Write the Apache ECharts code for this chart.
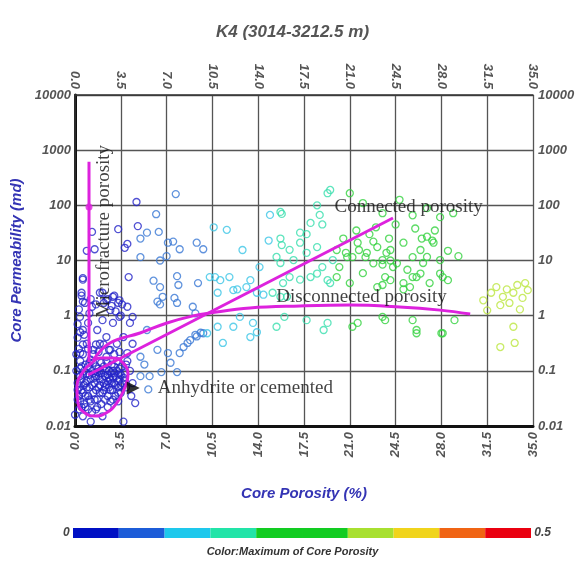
<!DOCTYPE html>
<html><head><meta charset="utf-8">
<script src="https://cdn.jsdelivr.net/npm/echarts@6/dist/echarts.min.js"></script>
<style>html,body{margin:0;padding:0;background:#fff}#c{width:585px;height:562px}</style>
</head><body><div id="c"></div>
<script>
// ---------------- data ----------------
const chartTitle = 'K4 (3014-3212.5 m)';
const xName = 'Core Porosity (%)';
const yName = 'Core Permeability (md)';
const colorCaption = 'Color:Maximum of Core Porosity';
const permTicks = [0.01, 0.1, 1, 10, 100, 1000, 10000];
const colorBarText = ['0', '0.5'];
// colour classes of porosity (%): [min, max]
const colorBreaks = [[0,5],[5,10],[10,15],[15,20],[20,25],[25,30],[30,35],[35,40],[40,45],[45,50]];
const barColors   = ['#0010c4','#1c5cd8','#1ec8ec','#22e4a8','#12cc22','#12cc22','#a8e030','#f0d41c','#f06414','#ea0010'];
const pointColors = ['#2626c8','#3a78d4','#3cc6e6','#38dfae','#34d240','#34d240','#bce640','#f0d820','#f06010','#e80010'];

// [core porosity %, core permeability md]
const clusterPts = [
[0.2,0.03],[0.3,0.05],[0.4,0.08],[0.5,0.12],[0.6,0.04],[0.7,0.025],[0.8,0.06],[0.9,0.09],[1.0,0.035],[1.1,0.05],
[1.2,0.07],[1.3,0.1],[1.4,0.04],[1.5,0.06],[1.6,0.08],[1.7,0.03],[1.8,0.05],[1.9,0.07],[2.0,0.09],[2.1,0.04],
[2.2,0.06],[2.3,0.08],[2.4,0.11],[2.5,0.035],[2.6,0.05],[2.7,0.07],[2.8,0.09],[2.9,0.045],[3.0,0.06],[3.1,0.08],
[3.2,0.1],[3.3,0.05],[3.4,0.07],[3.6,0.06],[3.8,0.09],[3.9,0.05],
[0.3,0.02],[0.6,0.015],[1.0,0.02],[1.3,0.018],[1.7,0.022],[2.0,0.025],[2.3,0.03],[2.7,0.028],[3.1,0.035],[3.5,0.04],
[0.4,0.15],[0.8,0.13],[1.2,0.16],[1.6,0.12],[2.0,0.14],[2.4,0.18],[2.8,0.13],[3.2,0.15],[3.6,0.12],
[0.2,0.06],[0.5,0.07],[0.9,0.05],[1.4,0.09],[1.8,0.11],[2.2,0.045],[2.6,0.1],[3.0,0.12],[3.4,0.09],[0.7,0.1],
[1.1,0.085],[1.5,0.03],[1.9,0.04],[2.5,0.065],[2.9,0.075],[3.3,0.04],[3.7,0.075],
[0.1,0.1],[0.1,0.2],[0.3,0.25],[0.2,0.4],[0.4,0.5],[0.6,0.3],[1.0,0.25],[1.4,0.2],[1.8,0.22],[2.2,0.3],
[2.6,0.24],[3.0,0.2],[3.4,0.22],
[0.0,0.016],[3.7,0.012],[4.6,0.026],[4.2,0.1],[4.4,0.06],[4.0,0.15],[4.3,0.035],[1.2,0.012],[2.1,0.015],[0.5,0.022],
[1.6,0.045],[2.4,0.055],[3.5,0.085],[0.8,0.035],[2.8,0.06],[1.2,0.028],[3.9,0.13],
[0.3,0.035],[0.5,0.045],[0.7,0.055],[0.9,0.065],[1.1,0.03],[1.3,0.055],[1.5,0.075],[1.7,0.095],[1.9,0.055],[2.1,0.07],
[2.3,0.05],[2.5,0.085],[2.7,0.045],[2.9,0.1],[3.1,0.055],[3.3,0.065],[3.5,0.055],[0.4,0.11],[0.6,0.085],[1.0,0.12],
[1.4,0.14],[1.8,0.08],[2.2,0.12],[2.6,0.075],[3.0,0.09],[3.4,0.11],[3.8,0.065],[0.2,0.045],[0.4,0.028],[0.8,0.022],
[1.6,0.02],[2.5,0.022],[2.9,0.03],[3.3,0.028],[1.9,0.1],[2.3,0.1],[1.1,0.14],[0.6,0.2],[1.6,0.3],[2.4,0.15]
];
const bluePts = [
[0.6,4.5],[0.5,2.6],[0.76,1.7],[0.38,0.95],[1.0,0.74],[0.6,0.55],[1.3,1.45],[1.9,2.6],[2.4,1.9],[2.9,2.2],
[3.3,1.7],[2.7,1.26],[3.4,0.95],[4.0,1.45],[2.1,0.83],[2.9,0.74],[1.7,0.55],[2.4,0.41],[1.9,0.31],[1.4,0.24],
[2.7,0.24],[3.2,0.31],[3.7,0.41],[4.2,0.74],[4.4,0.95],[0.9,0.31],[0.4,0.21],[4.0,0.21],[4.4,0.31],
[0.6,4.8],[0.5,2.3],[0.6,1.8],[3.4,1.9],[1.3,33],[0.9,15],[1.5,16],[4.0,20],[3.8,17],[3.3,37],[4.8,42],
[4.7,115],[4.1,5],[1.6,1.6],[2.2,1.7],[2.5,2.0],[2.8,1.5],[3.0,2.3],[3.1,1.2],[3.5,1.0],[3.6,1.6],
[2.1,2.6],[1.2,2.0],[0.7,0.45],[1.1,1.1],[0.3,1.3],[0.2,0.7]
];
const steelPts = [
[5.0,25],[5.0,11.5],[7.7,160],[6.2,69],[5.5,32],[6.4,33],[7.1,21],[7.5,22],[8.0,16],[9.3,21],
[9.8,16],[7.0,12],[6.5,10],[6.0,4.3],[6.5,3.3],[7.8,5.2],[7.9,3.6],[9.4,3.9],[6.3,1.8],[7.6,2.1],
[9.0,1.45],[6.7,2.2],[7.8,1.7],[9.6,0.49],[8.8,0.36],[8.3,0.27],[6.5,1.6],[9.2,1.1],[5.5,0.55],[6.3,0.24],
[7.1,0.21],[8.0,0.21],[8.6,0.32],[9.2,0.45],[5.0,0.18],[7.3,0.14],[6.6,0.095],[7.8,0.095],[5.7,0.08],[5.0,0.08],
[5.6,0.046],[9.8,0.48],[9.3,0.42],[5.3,0.13]
];
const cyanPts = [
[10.6,40],[10.7,5],[11.1,4.4],[11.8,5],[12.1,2.9],[13.1,3.3],[13.9,2.6],[14.4,2.4],[12.6,0.95],[10.9,0.63],
[11.3,0.32],[13.6,0.74],[13.9,0.5],[10.1,0.48],[14.1,7.6],[14.9,67],[14.8,23],[11.6,36],[12.8,15.5],[13.4,4.4],
[12.4,3],[12.1,0.63],[13.4,0.41],[10.3,5],[10.9,2.6]
];
const tealPts = [
[15.8,70],[15.7,25],[15.8,19],[18.0,48],[18.7,67],[19.3,166],[18.5,100],[17.7,30],[17.2,21],[16.4,15.6],
[15.4,11.6],[15.7,9],[15.1,2.6],[15.7,2.2],[17.2,4.5],[18.0,5],[16.4,5],[18.5,5.8],[19.3,4.4],[16.0,0.95],
[19.0,0.55],[15.7,76],[17.2,32],[17.7,13.8],[18.5,17.5],[18.9,45],[19.5,190],[16.7,10.2],[18.9,7.6],[19.5,3.9],
[15.9,3.9],[16.2,2.2],[19.3,0.74],[17.7,0.83],[15.4,0.63],[19.7,10.2]
];
const greenPts = [
[21.0,166],[22.0,110],[23.5,72],[24.8,126],[25.8,66],[26.9,89],[27.9,61],[28.9,72],
[20.0,15.5],[20.8,11.5],[21.6,21],[22.3,13.8],[23.1,17.5],[23.5,10.2],[24.1,15.5],[24.6,8.9],[25.1,21],[25.8,11.5],
[26.4,15.5],[26.9,27],[27.4,21],[27.9,10.2],
[20.0,5.0],[21.0,3.9],[22.0,5.9],[23.1,3.3],[24.1,4.4],[25.1,3.0],[26.1,5.0],[27.1,3.9],[28.1,5.0],
[21.6,0.74],[23.5,0.95],[26.1,0.55],[28.1,0.48],
[26.5,25],[27.3,23],[23.8,13.8],[24.1,10],[24.3,7.6],[23.5,8.4],[23.7,5],[23.5,3.6],[25.4,6.8],[25.8,5],
[26.4,5.8],[26.6,9],[26.9,11.6],[25.1,3.9],[25.6,3.3],[27.9,5.8],[28.5,4.4],[23.7,0.83],[25.8,0.83],[26.1,0.48],
[28.0,0.48],[29.0,0.83],[20.2,7.6],[20.7,13.8],[21.2,11.5],[21.7,15.5],[22.2,11.5],[22.8,8.9],[21.2,0.63],
[22.5,30],[23.0,40],[24.0,25],[24.5,45],[21.5,35],[20.5,25],[22.8,22],[26.0,38],[27.5,35],[28.5,15],[29.3,12]
];
const yellowPts = [
[32.2,3.3],[33.0,3.0],[33.8,3.6],[32.7,2.2],[33.5,2.6],[33.2,1.7],[34.4,3.9],[34.2,2.1],[32.5,1.55],[34.6,2.9],
[33.5,0.63],[33.6,0.32],[32.5,0.27],[31.2,1.9],[31.5,1.25],[34.0,1.3],[31.8,2.6]
];
const samples = [].concat(clusterPts, bluePts, steelPts, cyanPts, tealPts, greenPts, yellowPts);

// interpretation overlays (data units)
const microfractureLine = [[1.07,614],[1.07,0.145]];
const microfractureDot = [[1.07,93]];
const connectedLine = [[0.99,0.084],[24.3,59]];
const disconnectedLine = [[1.38,0.157],[2.67,0.32],[4.97,0.485],[7.03,0.736],[9.02,0.99],[10.32,1.12],[13.37,1.38],[17.19,1.5],[21.0,1.56],[24.8,1.44],[27.9,1.26],[30.2,1.07]];
const cementedLoop = [[1.38,0.145],[0.61,0.096],[0.15,0.049],[0.23,0.026],[0.76,0.0172],[1.53,0.0152],[2.37,0.0172],[3.13,0.025],[3.74,0.045],[4.05,0.084],[3.74,0.133],[2.9,0.171],[1.91,0.171],[1.38,0.145]];
const arrowPoint = [[4.45,0.049]];
const annotTexts = ['Connected porosity','Disconnected porosity','Microfracture porosity','Anhydrite or cemented'];
const annotAt = [[25.5,93],[21.9,2.19],[2.2,34]];

// ---------------- chart ----------------
function classOf(p){ for (let i=0;i<colorBreaks.length;i++){ if (p < colorBreaks[i][1]) return i; } return colorBreaks.length-1; }
const lblFont = {fontFamily:'Liberation Sans', fontStyle:'italic', fontWeight:'bold', fontSize:13, color:'#555'};
const nameFont = {fontFamily:'Liberation Sans', fontStyle:'italic', fontWeight:'bold', fontSize:15, color:'#3434b4'};
const magenta = '#dd22dd';
const serif = {fontFamily:'Liberation Serif', fontSize:19, color:'#111'};
function permLabel(v){ for (const t of permTicks){ if (Math.abs(Math.log10(t)-Math.log10(v))<1e-6) return String(t);} return ''; }

const chart = echarts.init(document.getElementById('c'), null, {renderer:'canvas'});
chart.setOption({
  animation:false,
  backgroundColor:'#fff',
  title:[
    {text:chartTitle, left:'center', top:19, textStyle:{fontFamily:'Liberation Sans', fontStyle:'italic', fontWeight:'bold', fontSize:17, color:'#555'}},
    {text:colorCaption, left:'center', top:546, padding:0, textStyle:{fontFamily:'Liberation Sans', fontStyle:'italic', fontWeight:'bold', fontSize:11, color:'#333'}}
  ],
  grid:{left:75, right:52, top:95, bottom:136},
  xAxis:[
    {type:'value', position:'bottom', min:0, max:35, interval:3.5,
     axisLine:{show:true, onZero:false, lineStyle:{color:'#111', width:3}}, axisTick:{show:false},
     axisLabel:Object.assign({rotate:90, margin:6, formatter:v=>v.toFixed(1)}, lblFont),
     splitLine:{show:true, lineStyle:{color:'#555', width:1.3}},
     name:xName, nameLocation:'middle', nameGap:60, nameTextStyle:nameFont},
    {type:'value', position:'top', min:0, max:35, interval:3.5,
     axisLine:{show:true, onZero:false, lineStyle:{color:'#333', width:1.5}}, axisTick:{show:false},
     axisLabel:Object.assign({rotate:90, margin:6, formatter:v=>v.toFixed(1)}, lblFont),
     splitLine:{show:false}}
  ],
  yAxis:[
    {type:'log', logBase:10, position:'left', min:0.01, max:10000,
     axisLine:{show:true, lineStyle:{color:'#111', width:3}}, axisTick:{show:false}, minorTick:{show:false},
     axisLabel:Object.assign({margin:4, formatter:permLabel}, lblFont),
     splitLine:{show:true, lineStyle:{color:'#555', width:1.3}},
     name:yName, nameLocation:'middle', nameGap:47, nameTextStyle:nameFont},
    {type:'log', logBase:10, position:'right', min:0.01, max:10000,
     axisLine:{show:true, lineStyle:{color:'#333', width:1.5}}, axisTick:{show:false},
     axisLabel:Object.assign({margin:5, formatter:permLabel}, lblFont),
     splitLine:{show:false}}
  ],
  visualMap:{
    type:'piecewise', seriesIndex:1, dimension:0, orient:'horizontal', padding:0,
    left:63, top:527, itemWidth:45.8, itemHeight:10, itemGap:0, itemSymbol:'rect',
    selectedMode:false, hoverLink:false,
    pieces:colorBreaks.map((b,i)=>({min:b[0], max:b[1], color:barColors[i], symbol:'rect'})),
    text:[' ' + colorBarText[1] , colorBarText[0] + ' '], textGap:8,
    textStyle:{fontFamily:'Liberation Sans', fontStyle:'italic', fontWeight:'bold', fontSize:12, color:'#444'}
  },
  series:[
    {type:'scatter', xAxisIndex:0, yAxisIndex:0, symbol:'circle', symbolSize:7, silent:true, z:2,
     data:samples.map(p=>({value:p, itemStyle:{color:'rgba(0,0,0,0)', borderColor:pointColors[classOf(p[0])], borderWidth:1.3}}))},
    {type:'scatter', name:'colorbar', data:[]},
    {type:'line', data:microfractureLine, showSymbol:false, lineStyle:{color:magenta, width:3}, z:5},
    {type:'scatter', data:microfractureDot, symbol:'circle', symbolSize:7, itemStyle:{color:magenta}, z:5},
    {type:'line', data:connectedLine, showSymbol:false, lineStyle:{color:magenta, width:3}, z:5},
    {type:'line', data:disconnectedLine, smooth:0.4, showSymbol:false, lineStyle:{color:magenta, width:3}, z:5},
    {type:'line', data:cementedLoop, smooth:0.5, showSymbol:false, lineStyle:{color:magenta, width:3}, z:5},
    {type:'scatter', data:arrowPoint, symbol:'triangle', symbolSize:[13,13], symbolRotate:-90, itemStyle:{color:'#000'}, z:6,
     label:Object.assign({show:true, position:'right', distance:18, formatter:annotTexts[3]}, serif)},
    {type:'scatter', symbolSize:0, z:7, silent:true,
     label:Object.assign({show:true, position:'inside'}, serif),
     data:[
       {value:annotAt[0], label:{formatter:annotTexts[0]}},
       {value:annotAt[1], label:{formatter:annotTexts[1]}},
       {value:annotAt[2], label:{formatter:annotTexts[2], rotate:90}}
     ]}
  ]
});
</script></body></html>
